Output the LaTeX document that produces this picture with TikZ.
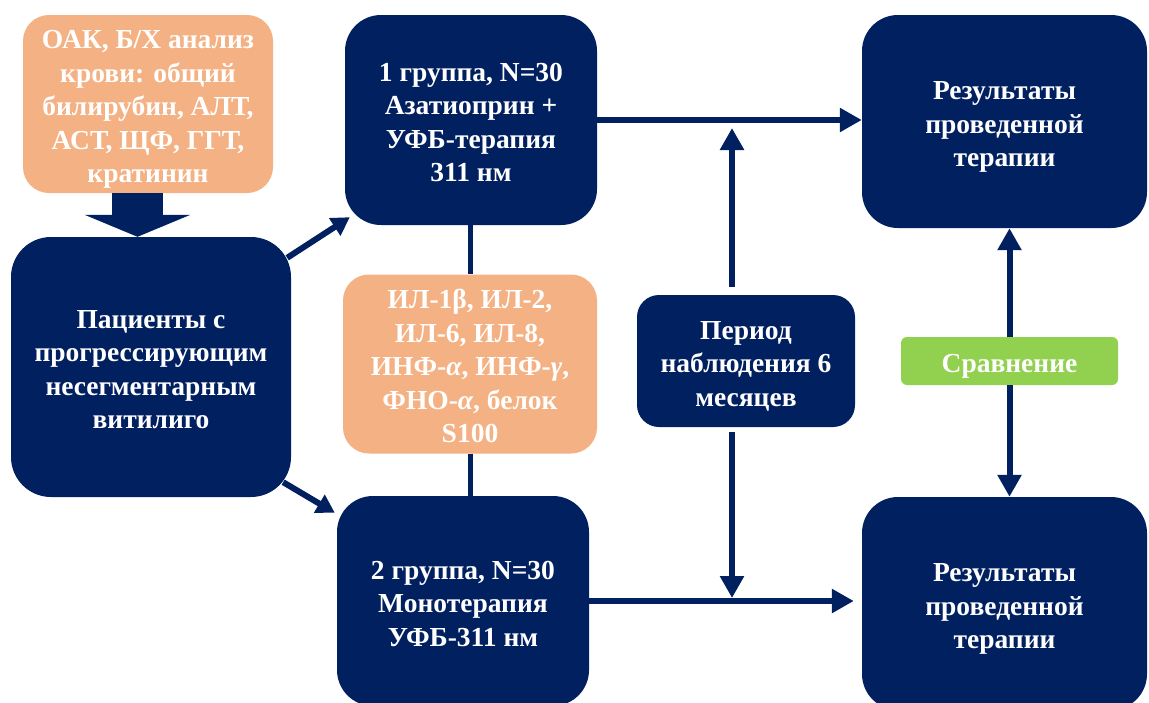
\documentclass[tikz,border=0pt]{standalone}
\usepackage{fontspec}
\setmainfont{Liberation Serif}
\usetikzlibrary{arrows.meta,calc}
\definecolor{navy}{HTML}{002060}
\definecolor{peach}{HTML}{F4B183}
\definecolor{lime}{HTML}{92D050}
\newcommand\tsx{\rule{0pt}{30pt}}
\newcommand\bsx{\rule[-7pt]{0pt}{0pt}}
\begin{document}
\begin{tikzpicture}[x=1pt,y=-1pt,
  box/.style={rectangle, draw=none, inner sep=0pt, align=center, text=white,
    font=\fontsize{27.5}{33.5}\selectfont\bfseries},
  navybox/.style={box, fill=navy, rounded corners=36pt},
  peachbox/.style={box, fill=peach, rounded corners=26pt},
  greenbox/.style={box, fill=lime, rounded corners=6pt},
  arr/.style={draw=navy, line width=6pt, -{Triangle[length=22pt,width=23pt]}},
  darr/.style={draw=navy, line width=6pt, -{Triangle[length=18pt,width=20pt]}},
  link/.style={draw=navy, line width=5pt},
  block/.style={draw=navy, line width=51pt, -{Triangle[length=22pt,width=105pt]}}
]
\useasboundingbox (0,0) rectangle (1149,702);
\clip (0,0) rectangle (1149,702);
\fill[white] (0,0) rectangle (1149,702);

\node[peachbox, minimum width=250pt, minimum height=178pt] (lab1) at (148,104)
  {\tsx ОАК, Б/Х анализ\\крови: общий\\билирубин, АЛТ,\\АСТ, ЩФ, ГГТ,\\кратинин\bsx};
\node[navybox, minimum width=280pt, minimum height=260pt, rounded corners=40pt] (pat) at (151,367)
  {\tsx Пациенты с\\прогрессирующим\\несегментарным\\витилиго\bsx};
\node[navybox, minimum width=252pt, minimum height=210pt] (g1) at (471,120)
  {\tsx 1 группа, N=30\\Азатиоприн +\\УФБ-терапия\\311 нм\bsx};
\node[peachbox, minimum width=254pt, minimum height=179pt] (lab2) at (470,364)
  {\tsx ИЛ-1β, ИЛ-2,\\ИЛ-6, ИЛ-8,\\ИНФ-\textit{α}, ИНФ-\textit{γ},\\ФНО-\textit{α}, белок\\S100\bsx};
\node[navybox, minimum width=252pt, minimum height=210pt] (g2) at (463,601)
  {\tsx 2 группа, N=30\\Монотерапия\\УФБ-311 нм\bsx};
\node[navybox, minimum width=218pt, minimum height=132pt, rounded corners=22pt] (per) at (746,361)
  {\tsx Период\\наблюдения 6\\месяцев\bsx};
\node[navybox, minimum width=285pt, minimum height=213pt] (res1) at (1004.5,121.5)
  {\tsx Результаты\\проведенной\\терапии\bsx};
\node[navybox, minimum width=285pt, minimum height=213pt] (res2) at (1004.5,603.5)
  {\tsx Результаты\\проведенной\\терапии\bsx};
\node[greenbox, minimum width=217pt, minimum height=48pt] (cmp) at (1009.5,361)
  {\tsx Сравнение\bsx};

\coordinate (px) at (732,0);

\draw[block] ($(lab1.south)+(-10.5,0)$) -- ($(lab1.south |- pat.north)+(-10.5,0)$);
\draw[darr] ($(pat.north east)+(-4,21)$) -- ($(g1.south west)+(5,-8)$);
\draw[darr] ($(pat.south east)+(-8,-15)$) -- ($(g2.north west)+(-2,17)$);
\draw[link] (lab2.north |- g1.south) -- (lab2.north);
\draw[link] (lab2.south) -- (lab2.south |- g2.north);
\draw[arr] (g1.east) -- (g1.east -| res1.west);
\draw[arr] (g2.east) -- ($(g2.east -| res2.west)+(-8,0)$);
\draw[arr] ($(px |- per.north)+(0,-8)$) -- ($(px |- g1.east)+(0,8)$);
\draw[arr] ($(px |- per.south)+(0,5)$) -- ($(px |- g2.east)+(0,-3)$);
\draw[arr] (cmp.north) -- (cmp.north |- res1.south);
\draw[arr] (cmp.south) -- (cmp.south |- res2.north);
\end{tikzpicture}
\end{document}
